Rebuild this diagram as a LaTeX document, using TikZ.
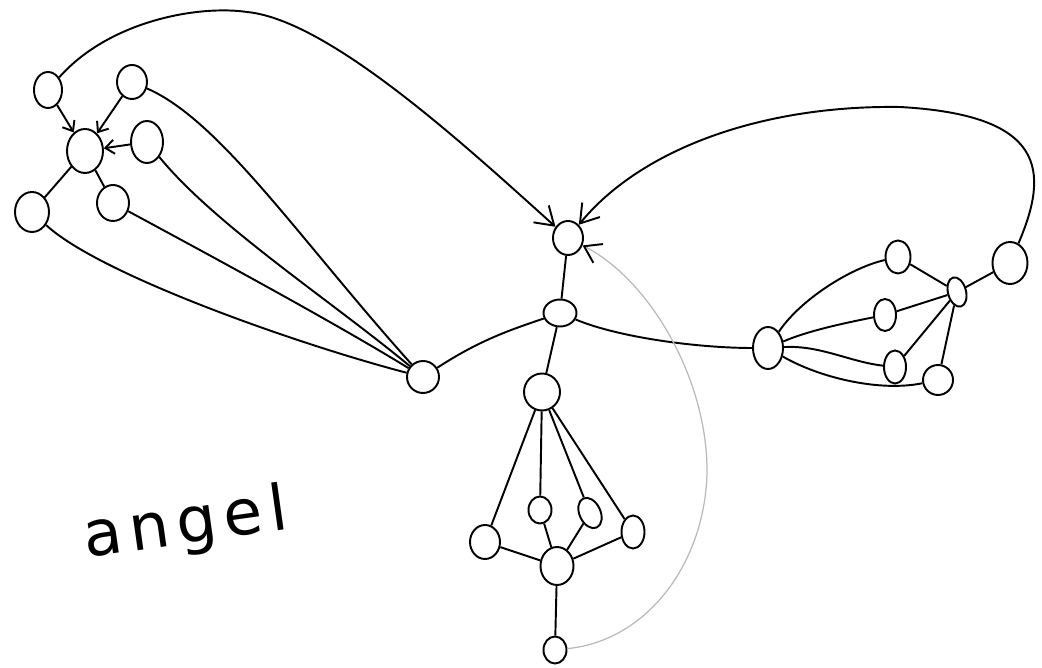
\documentclass[tikz,border=0pt]{standalone}
\usepackage{fontspec}
\newfontfamily\handfont[LetterSpace=12]{DejaVu Sans}
\usetikzlibrary{arrows.meta,shapes.geometric}

\begin{document}
\begin{tikzpicture}[x=0.02cm, y=-0.02cm,
  >={Straight Barb[length=10pt,width=13pt]},
  vtx/.style={ellipse, draw, line width=1.1pt, inner sep=0pt, fill=white},
  sz/.style 2 args={minimum width=#1*0.02cm, minimum height=#2*0.02cm},
  link/.style={line width=1.1pt},
  inarrow/.style={-{Straight Barb[length=5pt,width=8pt]}, line width=1.1pt},
  faint/.style={-{Straight Barb[length=9pt,width=12pt,color=black,line width=1.1pt]}, gray!55, line width=0.7pt}]
\useasboundingbox (0,0) rectangle (1042,668);

  % left cluster
  \node[vtx, sz={28}{36}] (L1) at (48,90) {};
  \node[vtx, sz={30}{34}] (L2) at (132,82) {};
  \node[vtx, sz={36}{44}] (Lc) at (85,151) {};
  \node[vtx, sz={32}{42}] (L3) at (147,142) {};
  \node[vtx, sz={34}{40}] (L4) at (32,212) {};
  \node[vtx, sz={32}{36}] (L5) at (113,203) {};

  % centre
  \node[vtx, sz={32}{32}] (B) at (423,377) {};
  \node[vtx, sz={30}{34}] (T) at (568,238) {};
  \node[vtx, sz={33}{27}] (M) at (560,313) {};

  % bottom cluster
  \node[vtx, sz={36}{37}] (Bt) at (542,392) {};
  \node[vtx, sz={30}{34}] (Bl) at (485,542) {};
  \node[vtx, sz={23}{27}] (Bm1) at (540,510) {};
  \node[vtx, sz={21}{32}, rotate=25] (Bm2) at (590,513) {};
  \node[vtx, sz={23}{33}] (Br) at (633,532) {};
  \node[vtx, sz={33}{38}] (Bh) at (557,566) {};
  \node[vtx, sz={23}{27}] (Bb) at (555,650) {};

  % right cluster
  \node[vtx, sz={30}{42}] (Rl) at (768,348) {};
  \node[vtx, sz={25}{33}] (R1) at (898,257) {};
  \node[vtx, sz={22}{32}] (R2) at (885,315) {};
  \node[vtx, sz={22}{33}] (R3) at (895,367) {};
  \node[vtx, sz={30}{30}] (R4) at (938,380) {};
  \node[vtx, sz={18}{30}, rotate=15] (Rh) at (957,292) {};
  \node[vtx, sz={35}{42}] (Rf) at (1010,263) {};

  % label
  \node[font=\handfont\fontsize{36}{40}\selectfont, rotate=8] (word) at (186,526) {angel};

  % left cluster edges
  \draw[inarrow] (L1) -- (Lc);
  \draw[inarrow] (L2) -- (Lc);
  \draw[inarrow] (L3) -- (Lc);
  \draw[link] (L4) -- (Lc);
  \draw[link] (L5) -- (Lc);

  % fan into B
  \draw[link] (L2) .. controls (220,120) and (300,240) .. (B);
  \draw[link] (L3) .. controls (215,225) and (330,300) .. (B);
  \draw[link] (L5) .. controls (200,250) and (330,320) .. (B);
  \draw[link] (L4) .. controls (100,275) and (300,345) .. (B);

  % centre edges
  \draw[link] (B) .. controls (480,340) and (510,330) .. (M);
  \draw[link] (T) -- (M);
  \draw[link] (M) -- (Bt);
  \draw[link] (M) .. controls (620,338) and (700,348) .. (Rl);

  % bottom cluster edges
  \foreach \v in {Bl,Bm1,Bm2,Br} {
    \draw[link] (Bt) -- (\v);
    \draw[link] (\v) -- (Bh);
  }
  \draw[link] (Bh) -- (Bb);

  % right cluster edges
  \draw[link] (Rl) .. controls (800,300) and (850,268) .. (R1);
  \draw[link] (Rl) .. controls (810,330) and (850,322) .. (R2);
  \draw[link] (Rl) .. controls (820,345) and (850,362) .. (R3);
  \draw[link] (Rl) .. controls (820,378) and (880,392) .. (R4);
  \foreach \v in {R1,R2,R3,R4}
    \draw[link] (\v) -- (Rh);
  \draw[link] (Rh) -- (Rf);

  % long arrows into T
  \draw[link, ->] (L1) .. controls (110,20) and (200,5) .. (247,12)
    .. controls (330,20) and (470,150) .. (T);
  \draw[link, ->] (Rf) .. controls (1050,170) and (1045,115) .. (900,107)
    .. controls (760,105) and (640,150) .. (T);
  \draw[faint] (Bb) .. controls (650,640) and (705,560) .. (707,473)
    .. controls (708,380) and (650,280) .. (T);
\end{tikzpicture}
\end{document}
